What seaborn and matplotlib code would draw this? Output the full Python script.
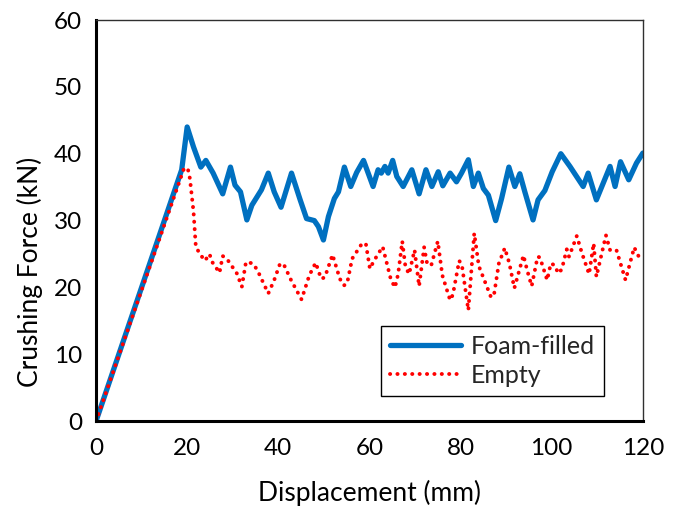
"""
Crushing force vs displacement for foam-filled and empty tubes.
"""
import matplotlib
matplotlib.use("Agg")
import matplotlib.pyplot as plt
import seaborn as sns

# Foam-filled tube
foam_disp = [0, 18.8, 20.0, 21.4, 23.0, 24.1, 25.7, 27.8, 29.5, 30.5, 31.7, 33.1, 34.2,
             36.3, 37.8, 39.1, 40.6, 42.9, 44.8, 46.2, 47.9, 48.8, 49.9, 51.0, 52.3,
             53.2, 54.5, 55.9, 57.2, 58.7, 60.8, 61.9, 62.6, 63.4, 64.1, 65.1, 66.0,
             67.4, 69.3, 70.9, 72.4, 73.7, 75.1, 76.1, 77.7, 79.1, 80.2, 81.7, 82.8,
             83.9, 85.0, 86.1, 87.7, 89.0, 90.6, 91.9, 93.0, 94.1, 95.9, 97.0, 98.5,
             100.1, 102.0, 104.0, 106.9, 108.0, 109.8, 112.8, 113.9, 115.1, 116.9,
             118.6, 120.0]
foam_force = [0, 37.6, 44.0, 41.0, 38.0, 39.0, 37.1, 34.0, 38.0, 35.3, 34.3, 30.1, 32.3,
              34.6, 37.1, 34.3, 32.0, 37.1, 33.1, 30.3, 30.0, 29.1, 27.1, 30.6, 33.3,
              34.3, 38.0, 35.1, 37.2, 39.0, 35.1, 37.6, 37.1, 38.1, 37.1, 39.0, 36.6,
              35.1, 37.6, 34.0, 37.6, 35.1, 37.3, 35.2, 37.1, 35.8, 37.1, 39.1, 35.1,
              37.1, 34.8, 33.8, 30.0, 33.3, 38.0, 35.1, 37.0, 34.3, 30.1, 33.1, 34.5,
              37.3, 40.0, 38.1, 35.1, 37.1, 33.1, 38.1, 35.1, 38.8, 36.1,
              38.6, 40.1]

# Empty tube
empty_disp = [0, 19.2, 20.1, 20.6, 21.0, 21.4, 21.9, 22.8, 23.9, 24.9, 25.5, 27.1, 27.8,
              28.7, 30.9, 32.0, 32.9, 34.4, 35.4, 37.8, 39.1, 40.4, 41.3, 42.8, 45.1,
              46.8, 48.2, 49.4, 50.2, 51.9, 53.5, 54.4, 55.1, 56.2, 58.3, 59.2, 60.1,
              61.0, 62.9, 64.7, 65.6, 66.3, 67.2, 67.9, 68.7, 69.9, 70.9, 72.0, 72.7,
              73.6, 75.0, 76.0, 77.7, 78.3, 79.7, 80.3, 81.7, 83.0, 84.0, 86.7, 87.4,
              88.4, 89.7, 90.7, 91.8, 93.8, 94.6, 95.6, 96.9, 97.4, 99.0, 99.8, 100.7,
              101.4, 102.2, 103.3, 103.8, 105.5, 106.6, 108.2, 109.2, 109.8, 111.9,
              112.8, 114.2, 116.2, 118.1, 119.4, 120.0]
empty_force = [0, 37.6, 37.9, 36.3, 33.8, 31.3, 26.1, 25.0, 24.0, 25.0, 23.8, 22.2, 24.7,
               24.3, 22.1, 20.1, 23.8, 23.6, 22.6, 19.1, 21.1, 23.6, 23.3, 21.1, 18.2,
               21.8, 23.7, 21.3, 21.5, 24.9, 21.3, 20.3, 20.6, 24.3, 26.5, 26.6, 22.8,
               24.0, 26.1, 21.2, 20.0, 22.0, 26.9, 23.1, 22.0, 25.6, 20.2, 26.0, 23.4,
               23.4, 26.9, 21.8, 18.1, 18.9, 24.0, 23.3, 16.6, 28.1, 23.2, 18.5, 19.2,
               23.6, 25.9, 23.6, 19.9, 24.8, 22.6, 20.2, 24.6, 24.5, 21.1, 23.6, 23.3,
               22.1, 22.7, 25.7, 24.6, 27.7, 25.2, 22.0, 26.6, 21.6, 27.8,
               25.6, 25.6, 21.1, 26.0, 24.2, 24.0]

X_TICKS = [0, 20, 40, 60, 80, 100, 120]
Y_TICKS = [0, 10, 20, 30, 40, 50, 60]

sns.set_theme(style="white")
plt.rcParams['font.family'] = ['Lato', 'DejaVu Sans']

fig = plt.figure(figsize=(6.81, 5.13), dpi=100)
ax = fig.add_axes([0.141, 0.179, 0.803, 0.782])

sns.lineplot(x=foam_disp, y=foam_force, ax=ax, color="#0070C0", linewidth=3.8,
             estimator=None, sort=False, label="Foam-filled")
sns.lineplot(x=empty_disp, y=empty_force, ax=ax, color="#FF0000", linewidth=2.8,
             estimator=None, sort=False, label="Empty",
             linestyle=(0, (0.05, 1.85)), dash_capstyle="round")

ax.set_xlim(0, 120)
ax.set_ylim(0, 60)
ax.set_xticks(X_TICKS)
ax.set_yticks(Y_TICKS)
ax.tick_params(direction="in", length=6, width=2, colors="black",
               labelsize=17.5, pad=10)
ax.tick_params(axis="x", pad=12)

for side in ["left", "bottom"]:
    ax.spines[side].set_linewidth(2.2)
    ax.spines[side].set_color("black")
for side in ["top", "right"]:
    ax.spines[side].set_linewidth(1.0)
    ax.spines[side].set_color("#303030")

ax.set_xlabel("Displacement (mm)", fontsize=19, color="black", labelpad=15)
ax.set_ylabel("Crushing Force (kN)", fontsize=19, color="black")
ax.yaxis.set_label_coords(-0.097, 0.372)

leg = ax.legend(loc="upper left", bbox_to_anchor=(0.521, 0.237), borderaxespad=0,
                fontsize=18, frameon=True, fancybox=False, edgecolor="black",
                framealpha=1, handlelength=2.85, borderpad=0.35, labelspacing=0.25,
                handletextpad=0.4)
leg.get_frame().set_linewidth(1.0)

fig.savefig("out.png", dpi=100)
